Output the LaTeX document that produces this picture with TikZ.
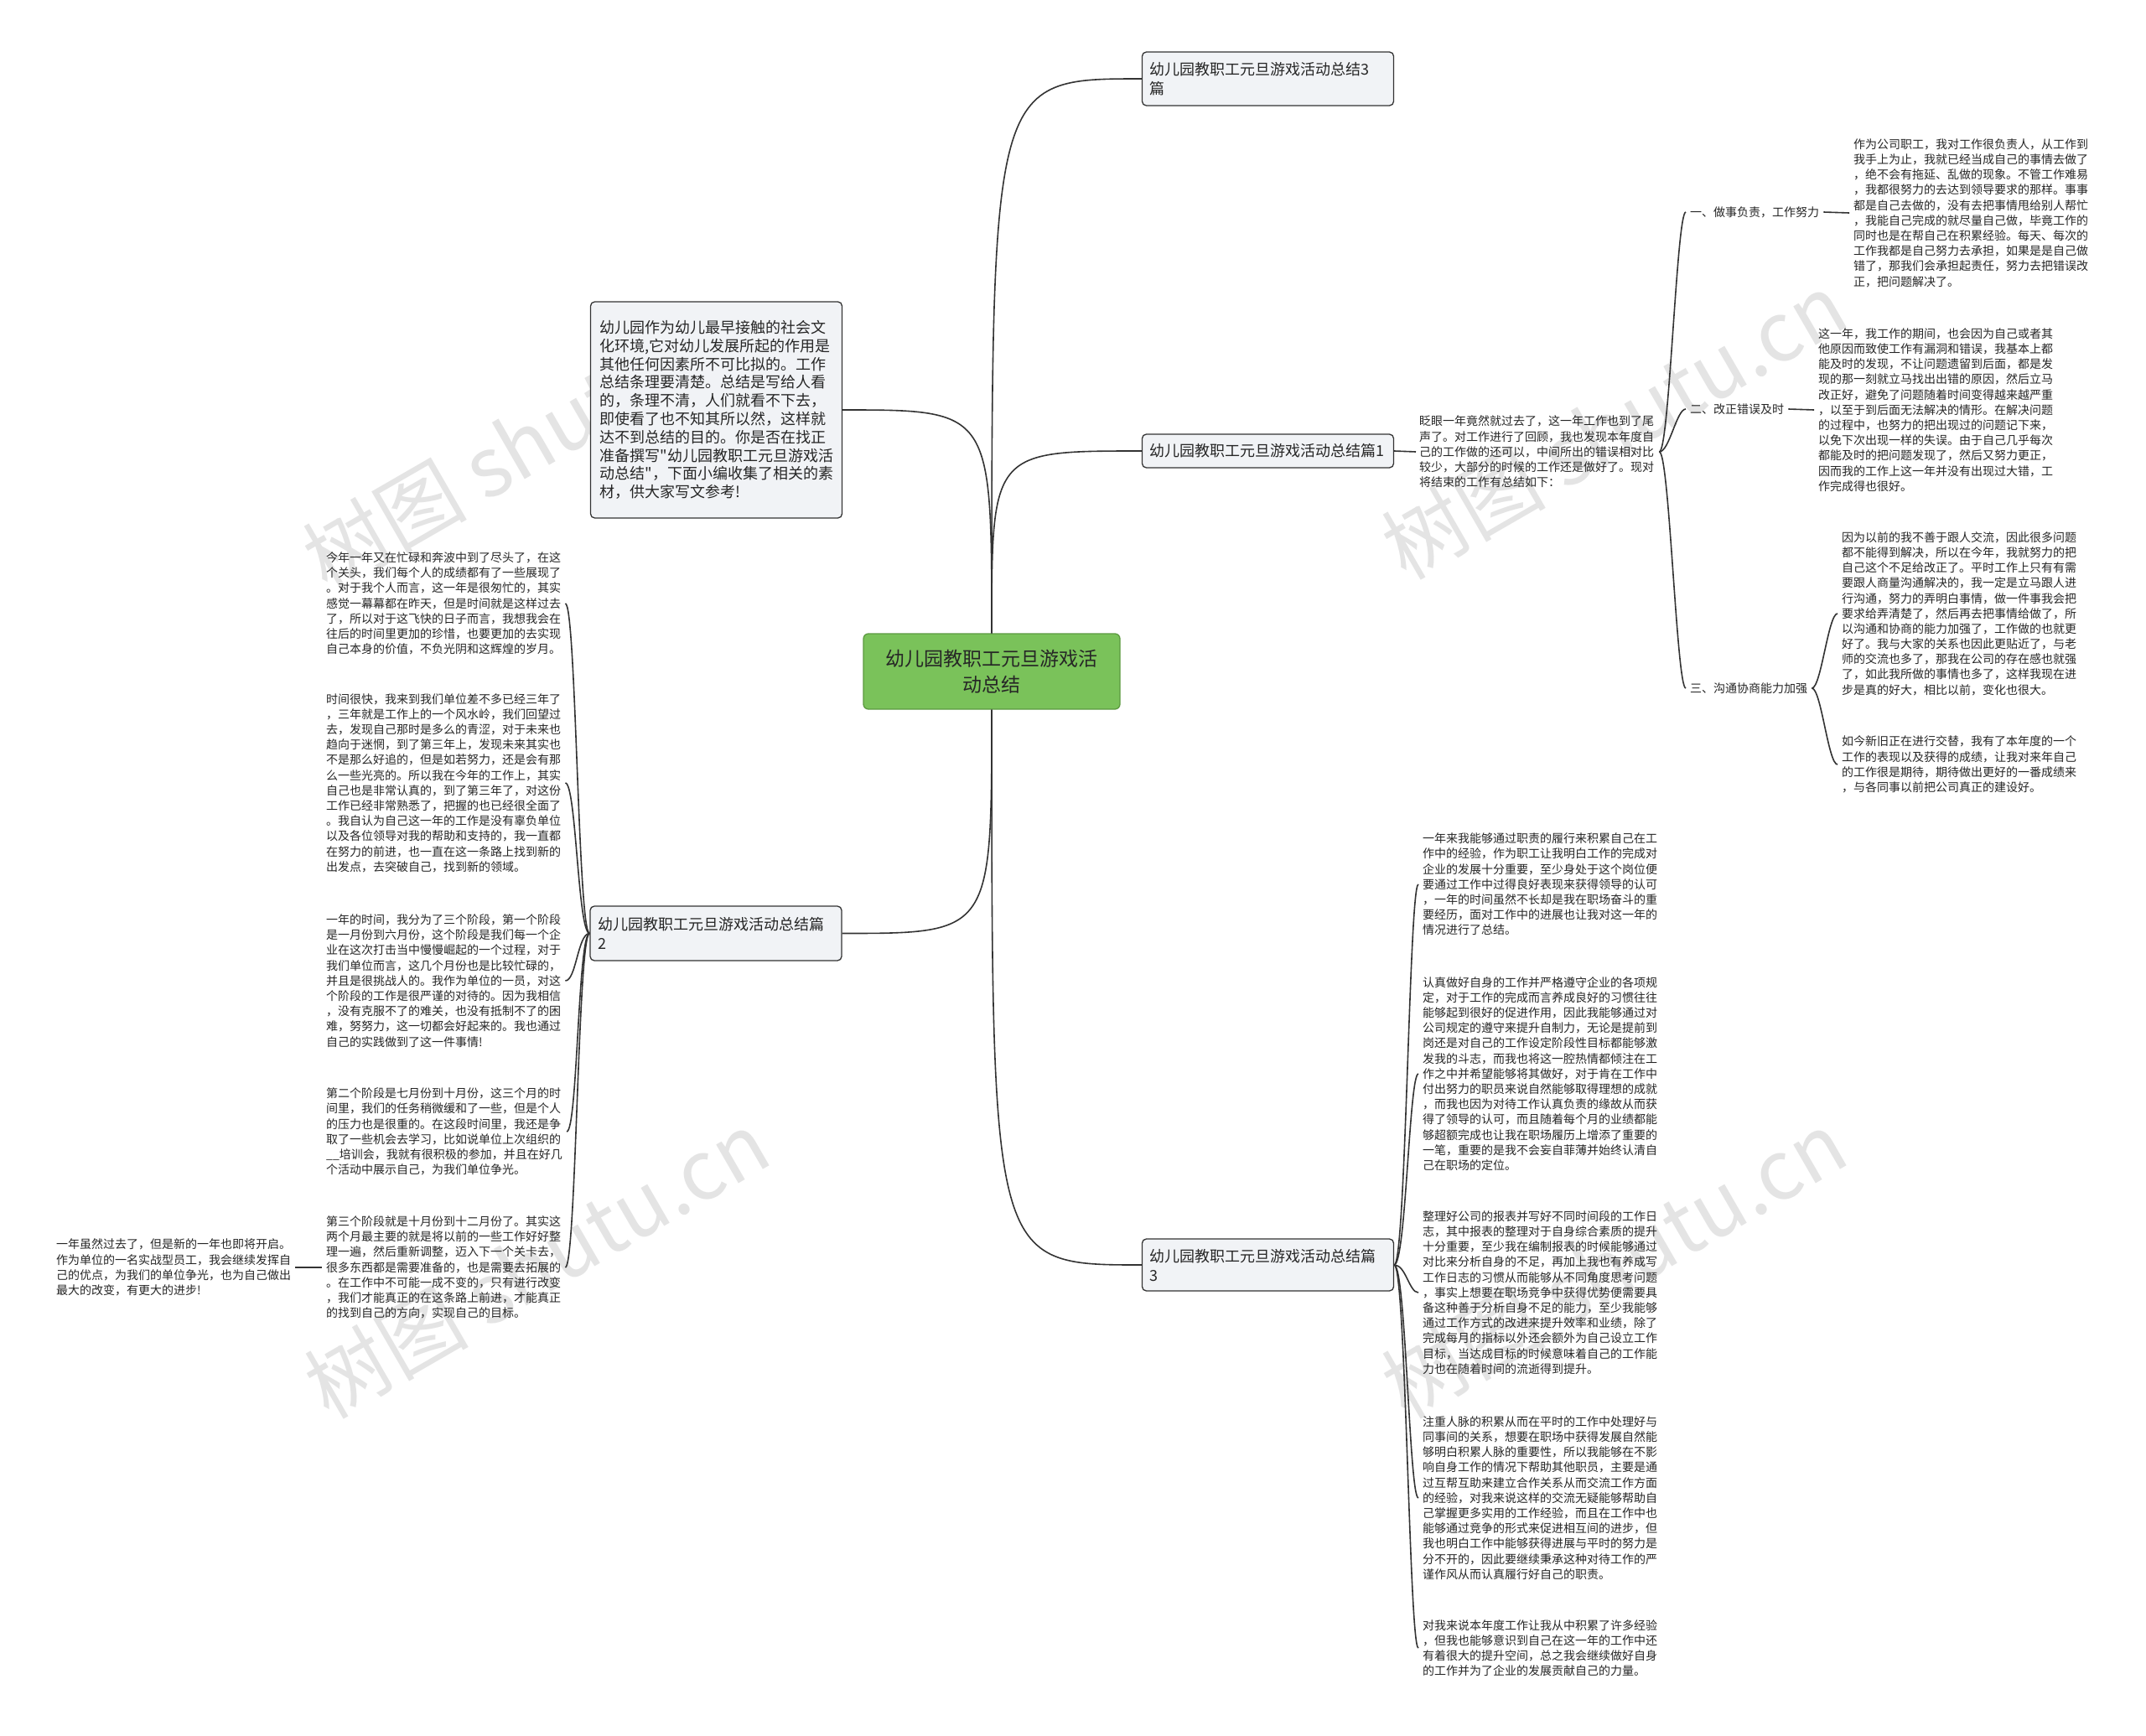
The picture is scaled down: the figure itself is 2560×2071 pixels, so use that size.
\documentclass[tikz,border=0pt]{standalone}
\usepackage{fontspec}
\newfontfamily\cjk{Noto Sans CJK SC}
\definecolor{linec}{HTML}{333333}
\definecolor{textc}{HTML}{262626}
\definecolor{boxfill}{HTML}{F1F3F6}
\definecolor{greenfill}{HTML}{7AC25A}
\definecolor{greenline}{HTML}{5C9A40}
\definecolor{wmc}{HTML}{E4E4E4}
\begin{document}
\begin{tikzpicture}[x=1pt,y=-1pt,
  txt/.style={font=\cjk\fontsize{14}{18.2}\selectfont, align=left, inner sep=0pt, anchor=west, text=textc},
  lbl/.style={font=\cjk\fontsize{14}{18}\selectfont, inner sep=0pt, anchor=west, text=textc},
  branch/.style={draw=linec, line width=1.3pt, rounded corners=5pt, fill=boxfill, font=\cjk\fontsize{18}{23}\selectfont, align=left, text width=282pt, inner xsep=9pt, inner ysep=2pt, text=textc},
  intro/.style={draw=linec, line width=1.3pt, rounded corners=5pt, fill=boxfill, font=\cjk\fontsize{18}{21.8}\selectfont, align=left, text width=278pt, inner xsep=11pt, inner ysep=2pt, minimum height=258pt, text=textc},
  root/.style={draw=greenline, line width=1.3pt, rounded corners=6pt, fill=greenfill, font=\cjk\fontsize{23}{31}\selectfont, align=center, minimum width=306pt, minimum height=90pt, text=textc},
  wm/.style={font=\cjk\fontsize{98}{100}\selectfont, text=wmc, inner sep=0pt},
  link/.style={draw=linec, line width=1.6pt},
]
\useasboundingbox[fill=white] (0,0) rectangle (2560,2071);

% watermarks
\node[wm, rotate=30] (wm1) at (638,522) {树图 shutu.cn};
\node[wm, rotate=30] (wm2) at (1925,508) {树图 shutu.cn};
\node[wm, rotate=30] (wm3) at (640,1508) {树图 shutu.cn};
\node[wm, rotate=30] (wm4) at (1925,1508) {树图 shutu.cn};

% root and branches
\node[root] (C) at (1183,801) {幼儿园教职工元旦游戏活\\动总结};
\node[branch, minimum height=64pt] (T3) at (1512.5,94) {幼儿园教职工元旦游戏活动总结3\\篇};
\node[branch, minimum height=40pt] (P1) at (1512.5,538) {幼儿园教职工元旦游戏活动总结篇1};
\node[branch, minimum height=65pt] (P2) at (854,1113.5) {幼儿园教职工元旦游戏活动总结篇\\2};
\node[branch, minimum height=62pt] (P3) at (1512.5,1509) {幼儿园教职工元旦游戏活动总结篇\\3};
\node[intro] (I) at (854.5,489) {幼儿园作为幼儿最早接触的社会文\\化环境,它对幼儿发展所起的作用是\\其他任何因素所不可比拟的。工作\\总结条理要清楚。总结是写给人看\\的，条理不清，人们就看不下去，\\即使看了也不知其所以然，这样就\\达不到总结的目的。你是否在找正\\准备撰写"幼儿园教职工元旦游戏活\\动总结"，下面小编收集了相关的素\\材，供大家写文参考!};

% branch 1 contents
\node[txt] (P1t) at (1693,539) {眨眼一年竟然就过去了，这一年工作也到了尾\\声了。对工作进行了回顾，我也发现本年度自\\己的工作做的还可以，中间所出的错误相对比\\较少，大部分的时候的工作还是做好了。现对\\将结束的工作有总结如下：};
\node[lbl] (S1) at (2016,253) {一、做事负责，工作努力};
\node[lbl] (S2) at (2016,488) {二、改正错误及时};
\node[lbl] (S3) at (2016,821) {三、沟通协商能力加强};
\node[txt] (RB1) at (2211,254) {作为公司职工，我对工作很负责人，从工作到\\我手上为止，我就已经当成自己的事情去做了\\，绝不会有拖延、乱做的现象。不管工作难易\\，我都很努力的去达到领导要求的那样。事事\\都是自己去做的，没有去把事情甩给别人帮忙\\，我能自己完成的就尽量自己做，毕竟工作的\\同时也是在帮自己在积累经验。每天、每次的\\工作我都是自己努力去承担，如果是是自己做\\错了，那我们会承担起责任，努力去把错误改\\正，把问题解决了。};
\node[txt] (RB2) at (2169,489) {这一年，我工作的期间，也会因为自己或者其\\他原因而致使工作有漏洞和错误，我基本上都\\能及时的发现，不让问题遗留到后面，都是发\\现的那一刻就立马找出出错的原因，然后立马\\改正好，避免了问题随着时间变得越来越严重\\，以至于到后面无法解决的情形。在解决问题\\的过程中，也努力的把出现过的问题记下来，\\以免下次出现一样的失误。由于自己几乎每次\\都能及时的把问题发现了，然后又努力更正，\\因而我的工作上这一年并没有出现过大错，工\\作完成得也很好。};
\node[txt] (RB3) at (2197,732) {因为以前的我不善于跟人交流，因此很多问题\\都不能得到解决，所以在今年，我就努力的把\\自己这个不足给改正了。平时工作上只有有需\\要跟人商量沟通解决的，我一定是立马跟人进\\行沟通，努力的弄明白事情，做一件事我会把\\要求给弄清楚了，然后再去把事情给做了，所\\以沟通和协商的能力加强了，工作做的也就更\\好了。我与大家的关系也因此更贴近了，与老\\师的交流也多了，那我在公司的存在感也就强\\了，如此我所做的事情也多了，这样我现在进\\步是真的好大，相比以前，变化也很大。};
\node[txt] (RB4) at (2197,912) {如今新旧正在进行交替，我有了本年度的一个\\工作的表现以及获得的成绩，让我对来年自己\\的工作很是期待，期待做出更好的一番成绩来\\，与各同事以前把公司真正的建设好。};

% branch 2 contents
\node[txt] (L1) at (389,720) {今年一年又在忙碌和奔波中到了尽头了，在这\\个关头，我们每个人的成绩都有了一些展现了\\。对于我个人而言，这一年是很匆忙的，其实\\感觉一幕幕都在昨天，但是时间就是这样过去\\了，所以对于这飞快的日子而言，我想我会在\\往后的时间里更加的珍惜，也要更加的去实现\\自己本身的价值，不负光阴和这辉煌的岁月。};
\node[txt] (L2) at (389,934) {时间很快，我来到我们单位差不多已经三年了\\，三年就是工作上的一个风水岭，我们回望过\\去，发现自己那时是多么的青涩，对于未来也\\趋向于迷惘，到了第三年上，发现未来其实也\\不是那么好追的，但是如若努力，还是会有那\\么一些光亮的。所以我在今年的工作上，其实\\自己也是非常认真的，到了第三年了，对这份\\工作已经非常熟悉了，把握的也已经很全面了\\。我自认为自己这一年的工作是没有辜负单位\\以及各位领导对我的帮助和支持的，我一直都\\在努力的前进，也一直在这一条路上找到新的\\出发点，去突破自己，找到新的领域。};
\node[txt] (L3) at (389,1170) {一年的时间，我分为了三个阶段，第一个阶段\\是一月份到六月份，这个阶段是我们每一个企\\业在这次打击当中慢慢崛起的一个过程，对于\\我们单位而言，这几个月份也是比较忙碌的，\\并且是很挑战人的。我作为单位的一员，对这\\个阶段的工作是很严谨的对待的。因为我相信\\，没有克服不了的难关，也没有抵制不了的困\\难，努努力，这一切都会好起来的。我也通过\\自己的实践做到了这一件事情!};
\node[txt] (L4) at (389,1350) {第二个阶段是七月份到十月份，这三个月的时\\间里，我们的任务稍微缓和了一些，但是个人\\的压力也是很重的。在这段时间里，我还是争\\取了一些机会去学习，比如说单位上次组织的\\\_\_培训会，我就有很积极的参加，并且在好几\\个活动中展示自己，为我们单位争光。};
\node[txt] (L5) at (389,1512) {第三个阶段就是十月份到十二月份了。其实这\\两个月最主要的就是将以前的一些工作好好整\\理一遍，然后重新调整，迈入下一个关卡去，\\很多东西都是需要准备的，也是需要去拓展的\\。在工作中不可能一成不变的，只有进行改变\\，我们才能真正的在这条路上前进，才能真正\\的找到自己的方向，实现自己的目标。};
\node[txt] (FL) at (67,1512) {一年虽然过去了，但是新的一年也即将开启。\\作为单位的一名实战型员工，我会继续发挥自\\己的优点，为我们的单位争光，也为自己做出\\最大的改变，有更大的进步!};

% branch 3 contents
\node[txt] (B1) at (1697,1055) {一年来我能够通过职责的履行来积累自己在工\\作中的经验，作为职工让我明白工作的完成对\\企业的发展十分重要，至少身处于这个岗位便\\要通过工作中过得良好表现来获得领导的认可\\，一年的时间虽然不长却是我在职场奋斗的重\\要经历，面对工作中的进展也让我对这一年的\\情况进行了总结。};
\node[txt] (B2) at (1697,1281) {认真做好自身的工作并严格遵守企业的各项规\\定，对于工作的完成而言养成良好的习惯往往\\能够起到很好的促进作用，因此我能够通过对\\公司规定的遵守来提升自制力，无论是提前到\\岗还是对自己的工作设定阶段性目标都能够激\\发我的斗志，而我也将这一腔热情都倾注在工\\作之中并希望能够将其做好，对于肯在工作中\\付出努力的职员来说自然能够取得理想的成就\\，而我也因为对待工作认真负责的缘故从而获\\得了领导的认可，而且随着每个月的业绩都能\\够超额完成也让我在职场履历上增添了重要的\\一笔，重要的是我不会妄自菲薄并始终认清自\\己在职场的定位。};
\node[txt] (B3) at (1697,1542) {整理好公司的报表并写好不同时间段的工作日\\志，其中报表的整理对于自身综合素质的提升\\十分重要，至少我在编制报表的时候能够通过\\对比来分析自身的不足，再加上我也有养成写\\工作日志的习惯从而能够从不同角度思考问题\\，事实上想要在职场竞争中获得优势便需要具\\备这种善于分析自身不足的能力，至少我能够\\通过工作方式的改进来提升效率和业绩，除了\\完成每月的指标以外还会额外为自己设立工作\\目标，当达成目标的时候意味着自己的工作能\\力也在随着时间的流逝得到提升。};
\node[txt] (B4) at (1697,1787) {注重人脉的积累从而在平时的工作中处理好与\\同事间的关系，想要在职场中获得发展自然能\\够明白积累人脉的重要性，所以我能够在不影\\响自身工作的情况下帮助其他职员，主要是通\\过互帮互助来建立合作关系从而交流工作方面\\的经验，对我来说这样的交流无疑能够帮助自\\己掌握更多实用的工作经验，而且在工作中也\\能够通过竞争的形式来促进相互间的进步，但\\我也明白工作中能够获得进展与平时的努力是\\分不开的，因此要继续秉承这种对待工作的严\\谨作风从而认真履行好自己的职责。};
\node[txt] (B5) at (1697,1966) {对我来说本年度工作让我从中积累了许多经验\\，但我也能够意识到自己在这一年的工作中还\\有着很大的提升空间，总之我会继续做好自身\\的工作并为了企业的发展贡献自己的力量。};

% root connectors
\draw[link] (C.north) .. controls (C.north |- T3.west) .. (T3.west);
\draw[link] (C.north) .. controls (C.north |- P1.west) .. (P1.west);
\draw[link] (C.north) .. controls (C.north |- I.east) .. (I.east);
\draw[link] (C.south) .. controls (C.south |- P2.east) .. (P2.east);
\draw[link] (C.south) .. controls (C.south |- P3.west) .. (P3.west);

% branch 1 connectors
\draw[link] (P1.east) -- ([xshift=-4pt]P1t.west);
\foreach \s in {S1,S2,S3}{
  \draw[link] ([xshift=6pt]P1t.east) .. controls ([xshift=18pt]P1t.east) and ([xshift=-16pt]\s.west) .. ([xshift=-5pt]\s.west);
}
\draw[link] ([xshift=5pt]S1.east) -- ([xshift=-5pt]RB1.west);
\draw[link] ([xshift=5pt]S2.east) -- ([xshift=-5pt]RB2.west);
\foreach \r in {RB3,RB4}{
  \draw[link] ([xshift=5pt]S3.east) .. controls ([xshift=16pt]S3.east) and ([xshift=-16pt]\r.west) .. ([xshift=-5pt]\r.west);
}

% branch 2 connectors
\foreach \l in {L1,L2,L3,L4,L5}{
  \draw[link] (P2.west) .. controls ([xshift=-14pt]P2.west) and ([xshift=18pt]\l.east) .. ([xshift=5pt]\l.east);
}
\draw[link] ([xshift=-5pt]L5.west) -- ([xshift=5pt]FL.east);

% branch 3 connectors
\foreach \b in {B1,B2,B3,B4,B5}{
  \draw[link] (P3.east) .. controls ([xshift=14pt]P3.east) and ([xshift=-16pt]\b.west) .. ([xshift=-5pt]\b.west);
}
\end{tikzpicture}
\end{document}
